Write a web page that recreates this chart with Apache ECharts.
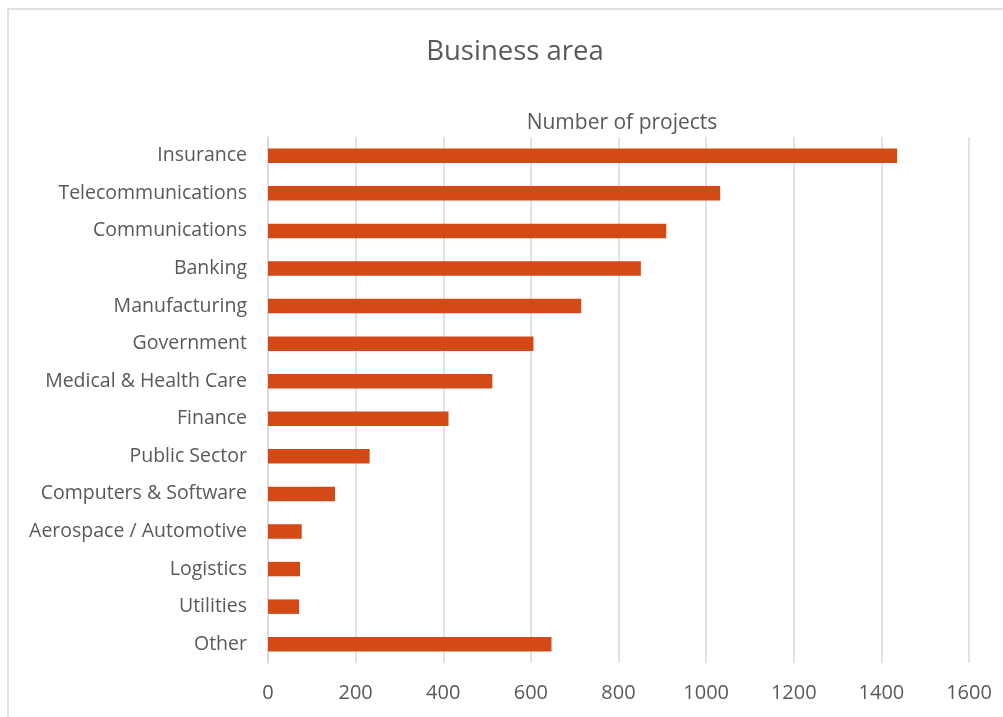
<!DOCTYPE html>
<html>
<head>
<meta charset="utf-8">
<script src="https://cdn.jsdelivr.net/npm/echarts@6/dist/echarts.min.js"></script>
<style>
  html, body { margin: 0; padding: 0; background: #fff; }
  #chart { width: 1003px; height: 717px; }
</style>
</head>
<body>
<div id="chart"></div>
<script>
// Business areas, listed top to bottom
const categories = [
  'Insurance', 'Telecommunications', 'Communications', 'Banking',
  'Manufacturing', 'Government', 'Medical & Health Care', 'Finance',
  'Public Sector', 'Computers & Software', 'Aerospace / Automotive',
  'Logistics', 'Utilities', 'Other'
];
// Number of projects per business area
const projects = [1436, 1032, 909, 851, 715, 606, 512, 412, 232, 153, 77, 73, 71, 647];

const titleText = 'Business area';
const seriesName = 'Number of projects';

const FONT = '"Open Sans", Lato, sans-serif';
const TEXT = '#595959';
const LINE = '#d9d9d9';

const chart = echarts.init(document.getElementById('chart'), null, { renderer: 'canvas' });
chart.setOption({
  backgroundColor: '#fff',
  animation: false,
  textStyle: { fontFamily: FONT },
  title: [
    {
      text: titleText,
      left: 510, top: 33, textAlign: 'center',
      textStyle: { fontFamily: FONT, fontSize: 27.5, fontWeight: 'normal', color: TEXT }
    },
    {
      text: seriesName,
      left: 617, top: 108, textAlign: 'center',
      textStyle: { fontFamily: FONT, fontSize: 21, fontWeight: 'normal', color: TEXT }
    }
  ],
  graphic: [{
    type: 'rect',
    shape: { x: 8, y: 9, width: 1010, height: 720 },
    style: { fill: 'none', stroke: LINE, lineWidth: 1.5 },
    silent: true
  }],
  grid: { left: 268, right: 34, top: 137, bottom: 54, containLabel: false },
  xAxis: {
    type: 'value',
    min: 0, max: 1600, interval: 200,
    axisLine: { show: false },
    axisTick: { show: false },
    splitLine: { lineStyle: { color: LINE, width: 1.5 } },
    axisLabel: {
      color: TEXT, fontSize: 20, fontFamily: FONT, margin: 20,
      formatter: v => String(v)
    }
  },
  yAxis: {
    type: 'category',
    data: categories,
    inverse: true,
    axisLine: { lineStyle: { color: LINE, width: 1.5 } },
    axisTick: { show: false },
    axisLabel: { color: TEXT, fontSize: 19.5, fontFamily: FONT, margin: 21, padding: [3, 0, 0, 0] }
  },
  series: [{
    name: seriesName,
    type: 'bar',
    data: projects,
    barWidth: '38.5%',
    itemStyle: { color: '#d34a17' }
  }]
});
</script>
</body>
</html>
